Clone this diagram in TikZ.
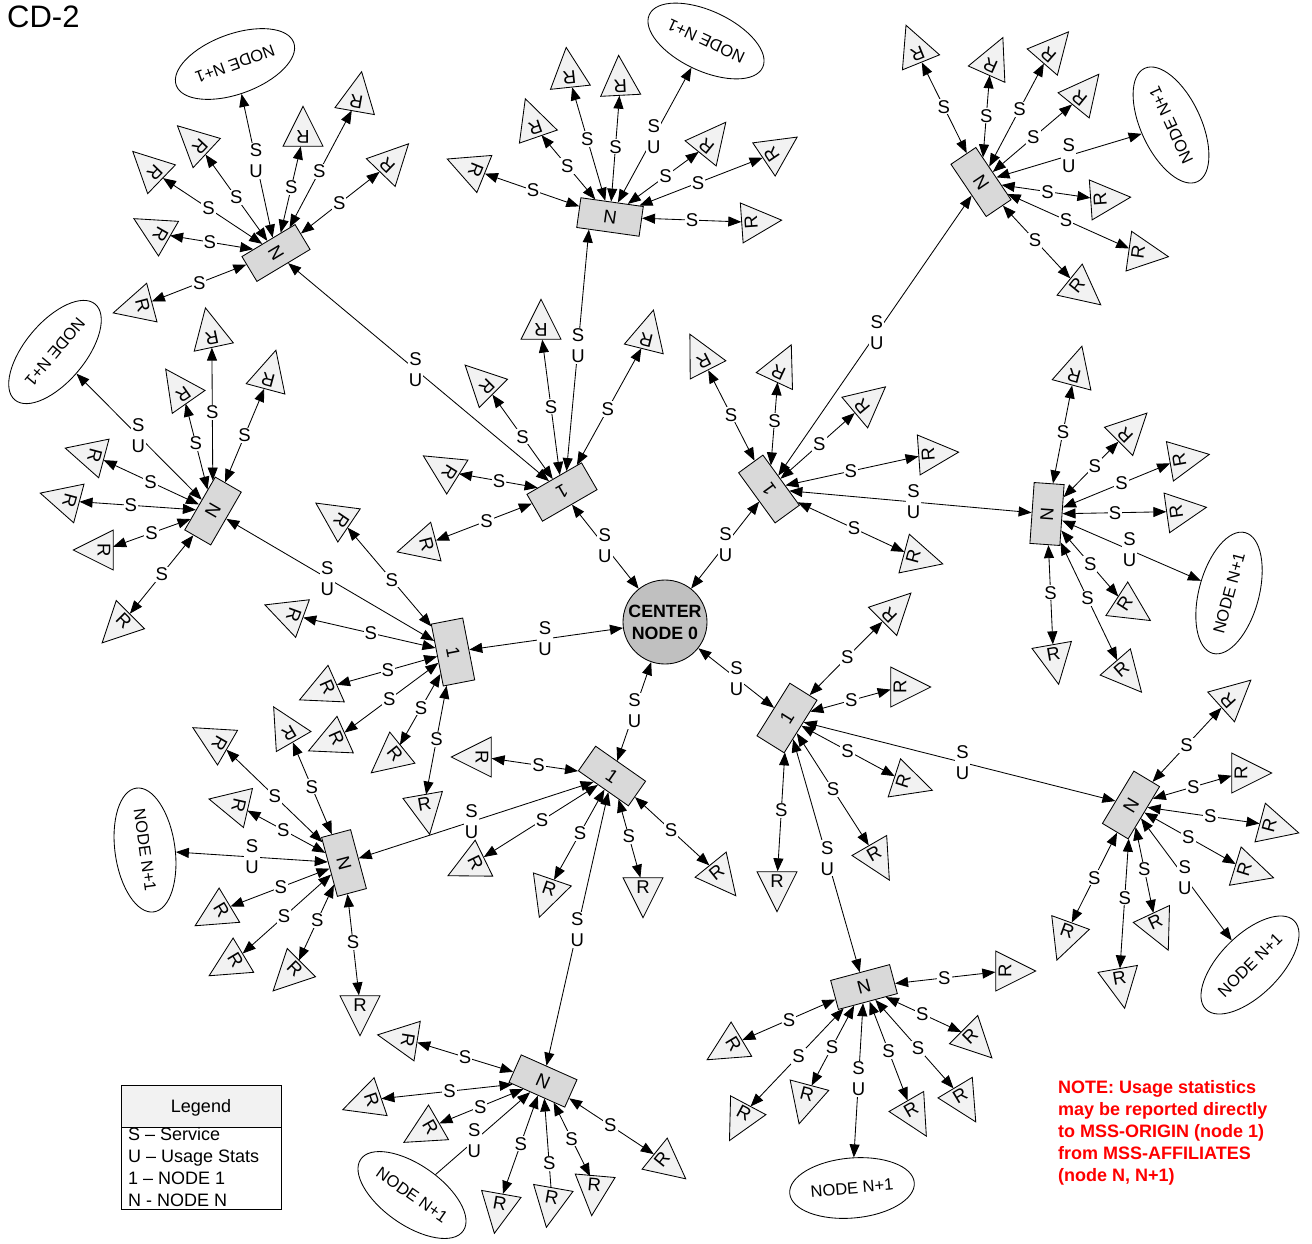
\documentclass[tikz,border=0pt]{standalone}
\usepackage{fontspec}
\setmainfont{Liberation Sans}
\usetikzlibrary{arrows.meta,shapes.geometric,calc}
\definecolor{boxg}{HTML}{D9D9D9}
\definecolor{trig}{HTML}{F2F2F2}
\definecolor{cgray}{HTML}{C0C0C0}
\definecolor{notered}{HTML}{FF0000}
\newcommand\fs{\fontsize{18.5}{21}\selectfont}
\tikzset{
  >={Triangle[length=13pt,width=10pt]},
  con/.style={<->, line width=0.85pt},
  conb/.style={<-, line width=0.85pt},
  conf/.style={->, line width=0.85pt},
  lbl/.style={fill=white, inner sep=1pt, font=\fs, align=center},
  box/.style={draw, fill=boxg, line width=0.85pt, inner sep=0pt, font=\fs},
  ell/.style={draw, fill=white, ellipse, minimum width=125pt, minimum height=60pt, inner sep=0pt, line width=0.85pt, font=\fontsize{16.5}{20}\selectfont},
  rtri/.style={draw, fill=trig, line width=0.85pt},
  rlab/.style={circle, minimum size=19pt, inner sep=0pt, font=\fs},
}
% R triangle: [style] parent name x y apexdir labelx labely
\newcommand\RR[8][con]{%
  \begin{scope}[shift={(#4,#5)},rotate=#6]
    \draw[rtri] (26.7,0) -- (-13.3,20) -- (-13.3,-20) -- cycle;
    \node[rlab,rotate=#6+90] (#3) at (-4,0) {R};
  \end{scope}
  \draw[#1] (#2) -- (#3);
  \node[lbl] at ($(#2)!(#7,#8)!(#3)$) {S};
}
\newcommand\Cn[6][con]{%
  \draw[#1] (#2) -- (#3);
  \node[lbl] at ($(#2)!(#4,#5)!(#3)$) {#6};
}
\begin{document}
\begin{tikzpicture}[x=1pt,y=-1pt]
\fill[white] (0,0) rectangle (1312,1243);
\useasboundingbox (0,0) rectangle (1312,1243);

\node[anchor=base west, inner sep=0pt, font=\fontsize{31}{36}\selectfont] (title) at (7,27) {CD-2};

% center
\node[circle, draw, fill=cgray, line width=0.85pt, minimum size=84pt, inner sep=0pt, align=center, font=\bfseries\fontsize{17.8}{22}\selectfont] (C) at (665,622) {CENTER\\NODE 0};

% node 1 boxes
\node[box,rotate=210,minimum width=63pt,minimum height=31pt] (A1) at (562,492) {1};
\node[box,rotate=126,minimum width=62pt,minimum height=30pt] (B1) at (769,489) {1};
\node[box,rotate=-79,minimum width=63pt,minimum height=32pt] (C1) at (453,652) {1};
\node[box,rotate=-35,minimum width=61pt,minimum height=30pt] (D1) at (612,776) {1};
\node[box,rotate=58,minimum width=62pt,minimum height=32pt] (E1) at (787,718) {1};

% node N boxes
\node[box,rotate=-59,minimum width=29pt,minimum height=62pt] (NTL) at (276,253) {N};
\node[box,rotate=-8,minimum width=63pt,minimum height=30pt] (NT) at (610,217) {N};
\node[box,rotate=-56,minimum width=63pt,minimum height=30pt] (NTR) at (981,182) {N};
\node[box,rotate=60,minimum width=61pt,minimum height=30pt] (NL) at (213,511) {N};
\node[box,rotate=86,minimum width=61pt,minimum height=30pt] (NR) at (1047,514) {N};
\node[box,rotate=-75,minimum width=61pt,minimum height=30pt] (NBL) at (344,863) {N};
\node[box,rotate=-24,minimum width=61pt,minimum height=30pt] (NB) at (543,1081) {N};
\node[box,rotate=15,minimum width=61pt,minimum height=30pt] (NBR) at (864,987) {N};
\node[box,rotate=59,minimum width=61pt,minimum height=30pt] (NRB) at (1131,805) {N};

% NODE N+1 ellipses
\node[ell,rotate=200] (ETL) at (235,64) {NODE N+1};
\node[ell,rotate=155] (ET) at (706,41) {NODE N+1};
\node[ell,rotate=115] (ETR) at (1171,125) {NODE N+1};
\node[ell,rotate=230] (EL) at (55,352) {NODE N+1};
\node[ell,rotate=-82] (EBL) at (145,850) {NODE N+1};
\node[ell,rotate=-35] (EB) at (412,1195) {NODE N+1};
\node[ell,rotate=5] (EBR) at (852,1188) {NODE N+1};
\node[ell,rotate=75] (ER) at (1229,593) {NODE N+1};
\node[ell,rotate=45] (ERB) at (1250,965) {NODE N+1};

% anchor points used by the backbone links
\coordinate (NTbot) at ($(NT.south)!0.6!(NT.south west)$);
\coordinate (A1top) at ($(A1.south)!0.45!(A1.south west)$);

% backbone connectors
\Cn{C}{A1}{605}{546}{S\\U}
\Cn{C}{B1}{725}{544}{S\\U}
\Cn{C}{C1}{545}{638}{S\\U}
\Cn{C}{D1}{635}{711}{S\\U}
\Cn{C}{E1}{733}{683}{S\\U}
\Cn{A1}{NTL}{410}{376}{S\\U}
\Cn{A1top}{NTbot}{583}{346}{S\\U}
\Cn{B1}{NTR}{868}{327}{S\\U}
\Cn{B1}{NR}{914}{497}{S\\U}
\Cn{C1}{NL}{325}{582}{S\\U}
\Cn{D1}{NBL}{472}{823}{S\\U}
\Cn{D1}{NB}{578}{930}{S\\U}
\Cn{E1}{NRB}{965}{753}{S\\U}
\Cn{E1}{NBR}{832}{857}{S\\U}
\Cn{NTL}{ETL}{256}{161}{S\\U}
\Cn{NT}{ET}{652}{136}{S\\U}
\Cn{NTR}{ETR}{1068}{153}{S\\U}
\Cn{NL}{EL}{138}{436}{S\\U}
\Cn{NR}{ER}{1130}{549}{S\\U}
\Cn{NBL}{EBL}{252}{856}{S\\U}
\Cn[conf]{EB}{NB}{479}{1146}{S\\U}
\Cn{NBR}{EBR}{858}{1079}{S\\U}
\Cn{NRB}{ERB}{1185}{877}{S\\U}

% R clusters
\RR{NTL}{tla}{152}{170}{136}{202}{218}
\RR{NTL}{tlb}{197}{144}{137}{237}{197}
\RR{NTL}{tlc}{303}{133}{90}{294}{188}
\RR{NTL}{tld}{357}{98}{80}{330}{177}
\RR{NTL}{tle}{390}{163}{46}{342}{207}
\RR{NTL}{tlf}{157}{232}{150}{208}{253}
\RR{NTL}{tlg}{139}{306}{195}{200}{285}

\RR{NT}{ta}{472}{169}{158}{532}{193}
\RR{NT}{tb}{534}{124}{109}{559}{173}
\RR{NT}{tc}{569}{74}{96}{577}{142}
\RR{NT}{td}{620}{82}{93}{617}{147}
\RR{NT}{te}{709}{143}{51}{667}{178}
\RR{NT}{tf}{775}{152}{34}{702}{193}
\RR{NT}{tg}{755}{222}{4}{692}{224}

\RR{NTR}{tra}{916}{50}{112}{941}{108}
\RR{NTR}{trb}{992}{62}{66}{975}{115}
\RR{NTR}{trc}{1051}{52}{49}{1009}{104}
\RR{NTR}{trd}{1082}{95}{51}{1033}{137}
\RR{NTR}{tre}{1104}{199}{4}{1047}{195}
\RR{NTR}{trf}{1142}{253}{-8}{1062}{229}
\RR{NTR}{trg}{1080}{288}{-39}{1032}{243}

\RR{NL}{la}{91}{455}{165}{152}{479}
\RR{NL}{lb}{66}{500}{165}{130}{515}
\RR{NL}{lc}{100}{550}{180}{155}{543}
\RR{NL}{ld}{121}{624}{-135}{163}{575}
\RR{NL}{le}{211}{334}{102}{222}{412}
\RR{NL}{lf}{181}{391}{125}{196}{443}
\RR{NL}{lg}{269}{376}{75}{248}{437}

\RR{A1}{aa}{541}{326}{90}{548}{407}
\RR{A1}{ab}{647}{336}{76}{617}{414}
\RR{A1}{ac}{484}{384}{135}{525}{435}
\RR{A1}{ad}{446}{470}{148}{497}{492}
\RR{A1}{ae}{423}{545}{195}{488}{525}

\RR{B1}{ba}{702}{358}{117}{729}{416}
\RR{B1}{bb}{780}{369}{65}{763}{420}
\RR{B1}{bc}{865}{404}{40}{820}{445}
\RR{B1}{bd}{932}{454}{4}{850}{467}
\RR{B1}{be}{917}{557}{-15}{850}{537}

\RR{C1}{ca}{338}{518}{146}{400}{573}
\RR{C1}{cb}{290}{614}{160}{370}{637}
\RR{C1}{cc}{324}{689}{204}{387}{668}
\RR{C1}{cd}{333}{740}{204}{395}{707}
\RR{C1}{ce}{392}{756}{-141}{430}{713}
\RR{C1}{cf}{425}{808}{-80}{441}{740}

\RR{NBL}{bla}{287}{730}{120}{316}{785}
\RR{NBL}{blb}{216}{741}{150}{283}{788}
\RR{NBL}{blc}{235}{805}{167}{285}{827}
\RR{NBL}{bld}{218}{912}{211}{280}{885}
\RR{NBL}{ble}{232}{962}{211}{290}{923}
\RR{NBL}{blf}{292}{972}{-135}{327}{925}
\RR{NBL}{blg}{360}{1009}{-90}{355}{942}

\RR{D1}{da}{478}{757}{180}{540}{755}
\RR{D1}{db}{472}{864}{206}{543}{822}
\RR{D1}{dc}{548}{892}{-109}{578}{832}
\RR{D1}{dd}{643}{891}{-90}{640}{833}
\RR{D1}{de}{719}{875}{-51}{673}{828}

\RR{NB}{na}{404}{1039}{171}{467}{1051}
\RR{NB}{nb}{368}{1101}{199}{448}{1078}
\RR{NB}{nc}{427}{1129}{-150}{478}{1101}
\RR{NB}{nd}{499}{1207}{-100}{519}{1143}
\RR[conb]{NB}{ne}{551}{1201}{-100}{556}{1163}
\RR{NB}{nf}{594}{1189}{-95}{581}{1134}
\RR{NB}{ng}{665}{1162}{-39}{612}{1123}

\RR{NBR}{bra}{730}{1046}{211}{787}{1015}
\RR{NBR}{brb}{742}{1117}{-118}{790}{1048}
\RR{NBR}{brc}{806}{1098}{-105}{828}{1045}
\RR{NBR}{brd}{1009}{971}{0}{944}{975}
\RR{NBR}{bre}{973}{1039}{-45}{927}{1004}
\RR{NBR}{brf}{962}{1099}{-59}{926}{1041}
\RR{NBR}{brg}{913}{1113}{-60}{886}{1052}

\RR{E1}{ea}{892}{612}{45}{843}{653}
\RR{E1}{eb}{904}{687}{0}{848}{688}
\RR{E1}{ec}{907}{782}{-18}{847}{752}
\RR{E1}{ed}{876}{857}{-60}{837}{787}
\RR{E1}{ee}{777}{885}{-90}{772}{810}

\RR{NR}{ra}{1180}{511}{8}{1115}{513}
\RR{NR}{rb}{1183}{459}{10}{1117}{472}
\RR{NR}{rc}{1128}{432}{45}{1084}{455}
\RR{NR}{rd}{1075}{372}{75}{1063}{432}
\RR{NR}{re}{1128}{606}{-33}{1089}{565}
\RR{NR}{rf}{1054}{658}{-80}{1045}{593}
\RR{NR}{rg}{1124}{672}{-49}{1078}{603}

\RR{NRB}{rba}{1231}{698}{42}{1183}{742}
\RR{NRB}{rbb}{1245}{773}{0}{1190}{776}
\RR{NRB}{rbc}{1273}{826}{-15}{1212}{805}
\RR{NRB}{rbd}{1248}{870}{-17}{1188}{838}
\RR{NRB}{rbe}{1157}{926}{-65}{1141}{870}
\RR{NRB}{rbf}{1120}{982}{-80}{1112}{897}
\RR{NRB}{rbg}{1066}{935}{-110}{1089}{875}

% legend
\node[draw, fill=trig, line width=0.85pt, anchor=north west, minimum width=160pt, minimum height=42pt, inner sep=0pt] (leghead) at (121,1085) {};
\node[draw, fill=white, line width=0.85pt, anchor=north west, minimum width=160pt, minimum height=82pt, inner sep=0pt] (legbody) at (121,1127) {};
\node[anchor=base, inner sep=0pt, font=\fontsize{18}{22}\selectfont] (legt) at (201,1112.5) {Legend};
\node[anchor=base west, inner sep=0pt, font=\fontsize{18}{22}\selectfont] (leg1) at (128,1140.5) {S – Service};
\node[anchor=base west, inner sep=0pt, font=\fontsize{18}{22}\selectfont] (leg2) at (128,1162.5) {U – Usage Stats};
\node[anchor=base west, inner sep=0pt, font=\fontsize{18}{22}\selectfont] (leg3) at (128,1184.5) {1 – NODE 1};
\node[anchor=base west, inner sep=0pt, font=\fontsize{18}{22}\selectfont] (leg4) at (128,1206.5) {N - NODE N};

% note
\node[anchor=base west, inner sep=0pt, text=notered, font=\bfseries\fontsize{18}{22}\selectfont] (n1) at (1058,1093) {NOTE: Usage statistics};
\node[anchor=base west, inner sep=0pt, text=notered, font=\bfseries\fontsize{18}{22}\selectfont] (n2) at (1058,1115) {may be reported directly};
\node[anchor=base west, inner sep=0pt, text=notered, font=\bfseries\fontsize{18}{22}\selectfont] (n3) at (1058,1137) {to MSS-ORIGIN (node 1)};
\node[anchor=base west, inner sep=0pt, text=notered, font=\bfseries\fontsize{18}{22}\selectfont] (n4) at (1058,1159) {from MSS-AFFILIATES};
\node[anchor=base west, inner sep=0pt, text=notered, font=\bfseries\fontsize{18}{22}\selectfont] (n5) at (1058,1181) {(node N, N+1)};
\end{tikzpicture}
\end{document}
